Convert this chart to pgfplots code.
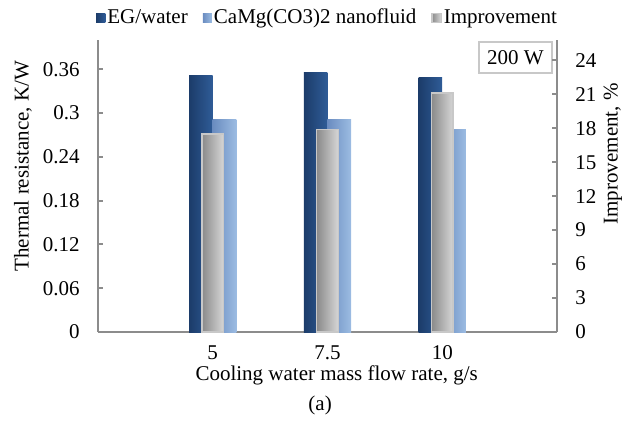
\documentclass[border=0pt]{standalone}
\usepackage{fontspec}
\setmainfont{Liberation Serif}
\usepackage{pgfplots}
\pgfplotsset{compat=1.18}
\definecolor{egA}{HTML}{1C3C6A}
\definecolor{egB}{HTML}{2F5C97}
\definecolor{caA}{HTML}{6A8CC0}
\definecolor{caB}{HTML}{9CBCE2}
\definecolor{imA}{HTML}{8A8A8A}
\definecolor{imB}{HTML}{D6D6D6}
\definecolor{imE}{HTML}{C8C8C8}
\definecolor{axg}{HTML}{8C8C8C}
\begin{document}
\fontsize{10.5bp}{12.6bp}\selectfont
\begin{tikzpicture}
\useasboundingbox (-49bp,-51bp) rectangle (270.5bp,166bp);
\pgfplotsset{
  common/.style={
    scale only axis, width=229.5bp, height=146bp,
    at={(0,0)}, anchor=south west,
    xmin=0, xmax=4, clip=false,
    /pgf/number format/assume math mode=true,
    axis line style={axg, line width=1bp},
    tick style={axg, line width=1bp},
    major tick length=2.5bp,
  },
  leg/.style={legend image code/.code={\path[##1] (0bp,-2.3bp) rectangle (4.6bp,2.3bp);}},
  eg/.style={ybar, bar width=0.205, bar shift=-0.1025, draw=none, left color=egA, right color=egB},
  ca/.style={ybar, bar width=0.205, bar shift=0.1025, draw=none, left color=caA, right color=caB},
  im/.style={ybar, bar width=0.19, bar shift=0, draw=imE, line width=0.8bp, left color=imA, right color=imB},
}
\begin{axis}[common,
  axis x line*=bottom, axis y line*=left,
  ymin=0, ymax=0.4,
  ytick={0,0.06,0.12,0.18,0.24,0.3,0.36},
  yticklabels={0,0.06,0.12,0.18,0.24,0.3,0.36},
  yticklabel style={xshift=-5.5bp},
  xtick={1,2,3}, xticklabels={5,7.5,10},
  xticklabel style={anchor=base, yshift=-13.5bp},
  xtick align=inside, ytick align=inside,
  xlabel={Cooling water mass flow rate, g/s},
  xlabel style={at={(axis description cs:0.52,-0.147)}, anchor=center},
  ylabel={Thermal resistance, K/W},
  ylabel style={at={(axis description cs:-0.1634,0.568)}, anchor=center, rotate=0},
]
\addplot[eg] coordinates {(1,0.352)};
\addplot[eg] coordinates {(2,0.355)};
\addplot[eg] coordinates {(3,0.349)};
\addplot[ca] coordinates {(1,0.291)};
\addplot[ca] coordinates {(2,0.291)};
\addplot[ca] coordinates {(3,0.277)};
\node[draw=imE, line width=0.6bp, minimum width=36.5bp, minimum height=15.5bp, inner sep=1bp]
  at (axis description cs:0.9096,0.940) {200 W};
\node at (axis description cs:0.484,-0.25) {(a)};
\end{axis}
\begin{axis}[common,
  axis x line=none, axis y line*=right,
  ymin=0, ymax=25.8,
  ytick={0,3,...,24},
  ytick align=inside,
  yticklabel style={xshift=5.5bp},
  ylabel={Improvement, \%},
  ylabel style={at={(axis description cs:1.122,0.610)}, anchor=center, rotate=0},
  legend style={at={(axis description cs:0.5,1.075)}, anchor=center, draw=none, fill=none,
    inner sep=0pt, nodes={inner sep=1bp}, legend columns=3,
    /tikz/every even column/.append style={column sep=6.5bp}},
  legend cell align=left,
]
\addlegendimage{leg, draw=none, left color=egA, right color=egB}
\addlegendentry{EG/water}
\addlegendimage{leg, draw=none, left color=caA, right color=caB}
\addlegendentry{CaMg(CO3)2 nanofluid}
\addlegendimage{leg, draw=imE, line width=0.6bp, left color=imA, right color=imB}
\addlegendentry{Improvement}
\addplot[im, forget plot] coordinates {(1,17.5)};
\addplot[im, forget plot] coordinates {(2,17.9)};
\addplot[im, forget plot] coordinates {(3,21.1)};
\end{axis}
\end{tikzpicture}
\end{document}
